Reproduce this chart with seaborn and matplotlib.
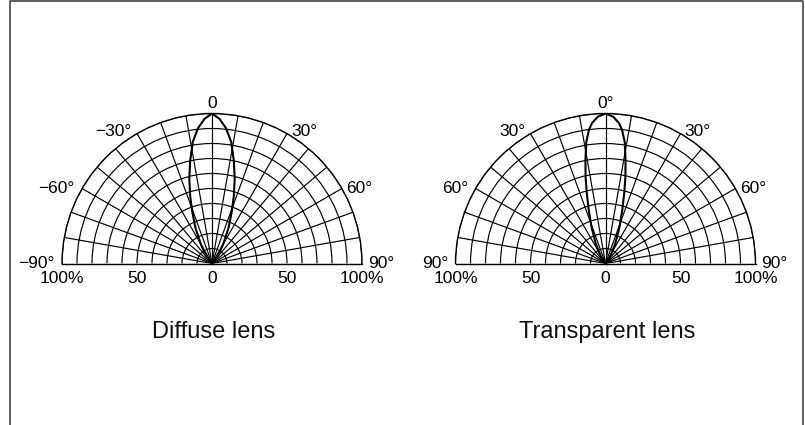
import numpy as np
import pandas as pd
import matplotlib
matplotlib.use("Agg")
import matplotlib.pyplot as plt
from matplotlib.lines import Line2D
import seaborn as sns

# ─── Data ────────────────────────────────────────────────────────────────────

# one half of each (symmetric) lobe: angle in degrees, relative intensity
diffuse_angle = [0, 3, 6, 9, 12, 15, 18, 21, 25, 30, 38, 50, 90]
diffuse_rel = [1.0, 0.965, 0.905, 0.82, 0.70, 0.585, 0.47, 0.365, 0.26, 0.15, 0.06, 0.015, 0.0]

transparent_angle = [0, 3, 5.5, 7, 9, 11, 13, 15, 17.5, 21, 26, 36, 50, 90]
transparent_rel = [1.0, 0.98, 0.94, 0.90, 0.82, 0.70, 0.59, 0.48, 0.37, 0.26, 0.15, 0.05, 0.01, 0.0]

angle_ticks = [-90, -60, -30, 0, 30, 60, 90]
diffuse_tick_labels = ['\u221290°', '\u221260°', '\u221230°', '0', '30°', '60°', '90°']
transparent_tick_labels = ['90°', '60°', '30°', '0°', '30°', '60°', '90°']

radial_ticks = [1.0, 0.5, 0.0, 0.5, 1.0]
radial_labels = ['100%', '50', '0', '50', '100%']
radial_side = [-90, -90, 0, 90, 90]

captions = ['Diffuse lens', 'Transparent lens']

# ─── Style ───────────────────────────────────────────────────────────────────

sns.set_style('white')
plt.rcParams['font.family'] = ['Liberation Sans', 'DejaVu Sans']
plt.rcParams['text.color'] = 'black'

PX = 0.72  # points per pixel at dpi=100

# label offsets (pixels) from the tip of each angle line
label_offset = {
    -90: (-7.5, 0, 'right'),
    -60: (-7.5, 0, 'right'),
    -30: (-5.5, 2.5, 'right'),
    0: (0, 10, 'center'),
    30: (4, 2.5, 'left'),
    60: (4.5, 0, 'left'),
    90: (6, 0, 'left'),
}


def mirror(angles, values):
    """Bangun lobe penuh dari separuh data (simetris)."""
    a = np.array(angles, dtype=float)
    v = np.array(values, dtype=float)
    full_a = np.concatenate([-a[::-1], a[1:]])
    full_v = np.concatenate([v[::-1], v[1:]])
    return pd.DataFrame({'theta': np.deg2rad(full_a), 'r': full_v})


def draw_polar(fig, rect, angles, values, tick_labels, caption, cx):
    ax = fig.add_axes(rect, projection='polar')
    ax.set_theta_zero_location('N')
    ax.set_theta_direction(-1)
    ax.set_thetamin(-90)
    ax.set_thetamax(90)
    ax.set_rlim(0, 1)

    ax.set_xticks(np.deg2rad(np.arange(-90, 91, 10)))
    ax.set_yticks(np.arange(0.1, 1.01, 0.1))
    ax.set_xticklabels([])
    ax.set_yticklabels([])
    ax.tick_params(length=0)
    ax.grid(True, color='black', lw=0.85)
    for sp in ax.spines.values():
        sp.set_color('black')
        sp.set_linewidth(1.0)

    df = mirror(angles, values)
    sns.lineplot(data=df, x='theta', y='r', ax=ax, sort=False, estimator=None,
                 color='black', lw=1.5)
    ax.set_xlabel('')
    ax.set_ylabel('')
    ax.set_rlim(0, 1)

    # angle labels
    for ang, lab in zip(angle_ticks, tick_labels):
        dx, dy, ha = label_offset[ang]
        ax.annotate(lab, xy=(np.deg2rad(ang), 1.0), xytext=(dx * PX, dy * PX),
                    textcoords='offset points', ha=ha, va='center',
                    fontsize=12.5, color='black', annotation_clip=False)

    # radial (percentage) labels along the baseline
    for r, lab, side in zip(radial_ticks, radial_labels, radial_side):
        ax.annotate(lab, xy=(np.deg2rad(side), r), xytext=(0, -15 * PX),
                    textcoords='offset points', ha='center', va='center',
                    fontsize=12.5, color='black', annotation_clip=False)

    fig.text(cx, 1 - 332 / 425, caption, ha='center', va='center',
             fontsize=17, color='#111111')
    return ax


fig = plt.figure(figsize=(8.05, 4.25), dpi=100)

R = 150
cy = 263.5
centers = [212, 605.5]
for cxp, angs, vals, labs, cap in zip(centers,
                                      [diffuse_angle, transparent_angle],
                                      [diffuse_rel, transparent_rel],
                                      [diffuse_tick_labels, transparent_tick_labels],
                                      captions):
    # polar axes keep a square box; the half disc sits in its middle
    rect = [(cxp - R) / 805, (425 - (cy + R / 2)) / 425, 2 * R / 805, 2 * R / 425]
    draw_polar(fig, rect, angs, vals, labs, cap, (cxp + 2) / 805)

# frame around the figure (no bottom edge)
x0, x1, y1 = 10 / 805, 803 / 805, 1 - 1 / 425
fig.add_artist(Line2D([x0, x0, x1, x1], [0, y1, y1, 0], transform=fig.transFigure,
                      color='#444444', lw=1.2))

plt.savefig('out.png', dpi=100)
